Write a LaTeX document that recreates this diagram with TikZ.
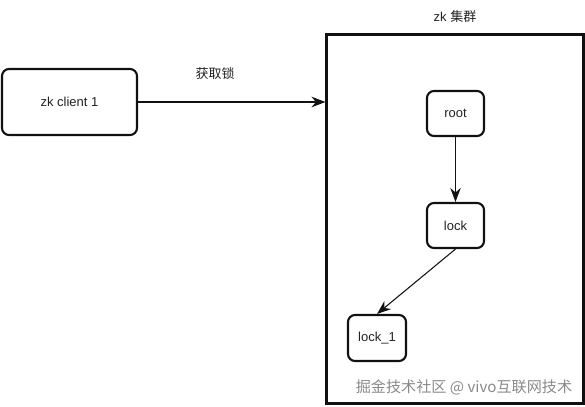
\documentclass[tikz,border=0pt]{standalone}
\usepackage{fontspec}
\setmainfont{Liberation Sans}
\newfontfamily\cjk{Noto Sans CJK SC}
\usetikzlibrary{arrows.meta, positioning}
\definecolor{cline}{HTML}{111111}
\definecolor{ctext}{HTML}{222222}
\definecolor{cmark}{HTML}{8A8A8A}
\tikzset{
  every picture/.style={font=\fontsize{7.4}{9}\selectfont, line width=0.6pt},
  box/.style={draw=cline, rounded corners=4pt, line width=1.2pt, align=center, text=ctext, inner sep=0pt},
  arrow/.style={-{Stealth[length=2.8mm, width=2.1mm]}, draw=cline, line width=0.6pt},
  title/.style={text=ctext},
  note/.style={font=\cjk\fontsize{8.6}{10}\selectfont, text=cmark},
}
\begin{document}
\begin{tikzpicture}[x=0.02cm, y=-0.02cm]
  \useasboundingbox (0,0) rectangle (585,406);
  \node[draw=cline, line width=1.2pt, minimum width=5.14cm, minimum height=7.38cm, inner sep=0pt] (cluster) at (455,219) {};
  \node[title] (clustername) at (455,17) {zk {\cjk 集群}};
  \node[box, minimum width=2.7cm, minimum height=1.32cm] (client) at (69.5,102) {zk client 1};
  \node[box, minimum width=1.14cm, minimum height=0.9cm] (root) at (455.5,113.5) {root};
  \node[box, minimum width=1.14cm, minimum height=0.9cm] (lock) at (455.5,225.5) {lock};
  \node[box, minimum width=1.16cm, minimum height=0.92cm] (lockone) at (377,338) {lock\_1};
  \node[title] (getlock) at (215,74) {\cjk 获取锁};
  \node[note] (mark) at (464,387) {掘金技术社区 @ vivo互联网技术};
  \draw[arrow] (client) -- (client.east -| cluster.west);
  \draw[arrow] (root) -- (lock);
  \draw[arrow] (lock.south) -- (lockone.north);
\end{tikzpicture}
\end{document}
